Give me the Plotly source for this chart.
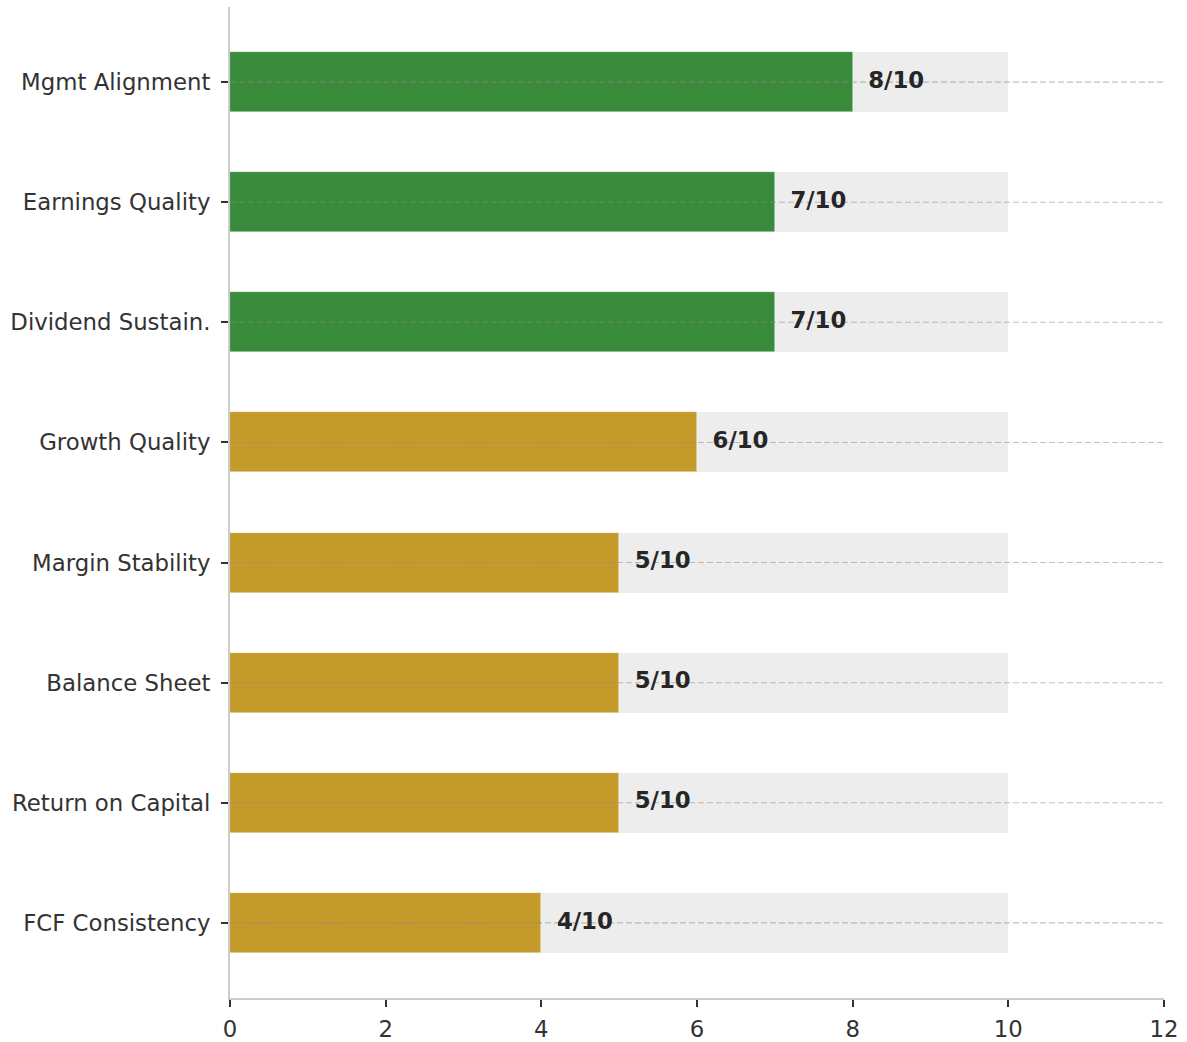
import plotly.graph_objects as go

# Quality scorecard, listed top to bottom
categories = [
    "Mgmt Alignment",
    "Earnings Quality",
    "Dividend Sustain.",
    "Growth Quality",
    "Margin Stability",
    "Balance Sheet",
    "Return on Capital",
    "FCF Consistency",
]
scores = [8, 7, 7, 6, 5, 5, 5, 4]
max_score = 10
x_ticks = [0, 2, 4, 6, 8, 10, 12]

GREEN = "#3a8a3c"
GOLD = "#c49a2b"
bar_colors = [GREEN if s >= 7 else GOLD for s in scores]
score_labels = [f"{s}/{max_score}" for s in scores]

font_family = "DejaVu Sans, Verdana, sans-serif"
TICK_SIZE = 22.8

fig = go.Figure()

# Grey track showing the full scale behind each score
fig.add_trace(go.Bar(
    x=[max_score] * len(categories),
    y=categories,
    orientation="h",
    width=0.5,
    marker=dict(color="#ededed", line=dict(width=0)),
    hoverinfo="skip",
    showlegend=False,
))

# Score bars
fig.add_trace(go.Bar(
    x=scores,
    y=categories,
    orientation="h",
    width=0.5,
    marker=dict(color=bar_colors, line=dict(color="rgba(255,255,255,0.6)", width=0.6)),
    showlegend=False,
))

# Dashed guide lines at each category, drawn over the bars
for cat in categories:
    fig.add_trace(go.Scatter(
        x=[x_ticks[0], x_ticks[-1]],
        y=[cat, cat],
        mode="lines",
        line=dict(color="rgba(140,140,140,0.55)", width=1.1, dash="6px,3px"),
        hoverinfo="skip",
        showlegend=False,
    ))

# Score text to the right of each bar
fig.add_trace(go.Scatter(
    x=[s + 0.2 for s in scores],
    y=categories,
    mode="text",
    text=score_labels,
    textposition="middle right",
    textfont=dict(family=font_family, size=TICK_SIZE, color="#262626", weight="bold"),
    hoverinfo="skip",
    showlegend=False,
))

fig.update_layout(
    barmode="overlay",
    width=1187,
    height=1042,
    margin=dict(l=230, r=23, t=7, b=44),
    paper_bgcolor="white",
    plot_bgcolor="white",
    font=dict(family=font_family, size=TICK_SIZE, color="#333333"),
    bargap=0,
)

fig.update_xaxes(
    range=[x_ticks[0], x_ticks[-1]],
    tickvals=x_ticks,
    ticks="outside",
    ticklen=7,
    tickwidth=1.5,
    tickcolor="#333333",
    ticklabelstandoff=3,
    automargin=False,
    showgrid=False,
    zeroline=False,
    showline=True,
    linecolor="#cccccc",
    linewidth=2,
    tickfont=dict(size=TICK_SIZE, color="#333333"),
)

fig.update_yaxes(
    type="category",
    categoryorder="array",
    categoryarray=categories,
    range=[len(categories) - 0.375, -0.625],
    ticks="outside",
    ticklen=7,
    tickwidth=1.5,
    tickcolor="#333333",
    ticklabelstandoff=6,
    automargin=False,
    showgrid=False,
    zeroline=False,
    showline=True,
    linecolor="#cccccc",
    linewidth=2,
    tickfont=dict(size=TICK_SIZE, color="#333333"),
)

fig.write_html("out.html")
